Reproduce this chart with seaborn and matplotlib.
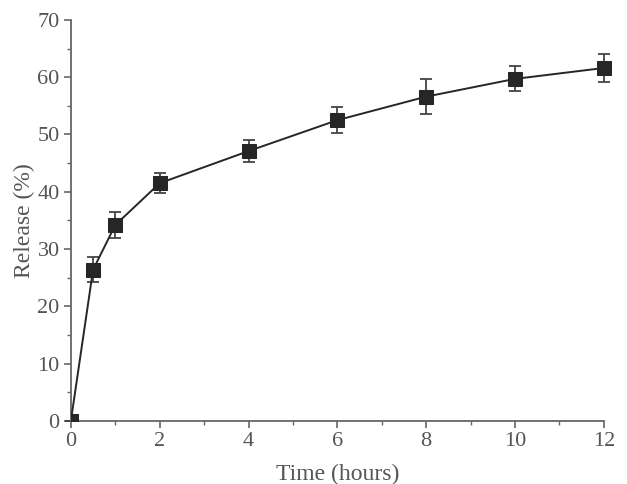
import matplotlib
matplotlib.use('Agg')
import matplotlib.pyplot as plt
from matplotlib.ticker import MultipleLocator
from matplotlib.transforms import Bbox, TransformedBbox
import pandas as pd
import seaborn as sns

time_h = [0, 0.5, 1, 2, 4, 6, 8, 10, 12]
release = [0.0, 26.4, 34.2, 41.5, 47.1, 52.5, 56.6, 59.7, 61.6]
release_err = [0.0, 2.2, 2.2, 1.7, 1.9, 2.3, 3.0, 2.2, 2.5]

sns.set_style('ticks')
plt.rcParams['font.family'] = ['Liberation Serif', 'DejaVu Serif']

data = pd.DataFrame({'time': time_h, 'release': release, 'err': release_err})

fig = plt.figure(figsize=(6.27, 4.84), dpi=100)
ax = fig.add_axes([0.113, 0.130, 0.850, 0.829])

ink = '#262626'
grey = '#555555'

eb = ax.errorbar(data['time'], data['release'], yerr=data['err'], fmt='none',
                 ecolor='#444444', elinewidth=1.3, capsize=4, capthick=1.3, zorder=2)
sns.lineplot(data=data, x='time', y='release', ax=ax, color=ink, linewidth=1.4,
             marker='s', markersize=10, markeredgecolor=ink, markerfacecolor=ink,
             zorder=3)

# let the last point spill past the right edge, but keep the origin clipped
clip = TransformedBbox(Bbox([[0, 0], [1.1, 1.1]]), ax.transAxes)
for line in ax.lines:
    line.set_clip_box(clip)
for art in eb.lines[1] + eb.lines[2]:
    art.set_clip_on(False)

ax.set_xlim(0, 12)
ax.set_ylim(0, 70)
ax.xaxis.set_major_locator(MultipleLocator(2))
ax.xaxis.set_minor_locator(MultipleLocator(1))
ax.yaxis.set_major_locator(MultipleLocator(10))
ax.yaxis.set_minor_locator(MultipleLocator(5))

for side in ['top', 'right']:
    ax.spines[side].set_visible(False)
for side in ['left', 'bottom']:
    ax.spines[side].set_color('#666666')
    ax.spines[side].set_linewidth(1.3)

ax.tick_params(which='major', direction='out', length=5, width=1.2,
               colors='#666666', labelcolor=grey, labelsize=16, pad=3)
ax.tick_params(which='minor', direction='out', length=3, width=1.0, colors='#666666')

ax.set_xlabel('Time (hours)', fontsize=17, color=grey, labelpad=9)
ax.set_ylabel('Release (%)', fontsize=17, color=grey, labelpad=2)

fig.savefig('out.png', dpi=100)
